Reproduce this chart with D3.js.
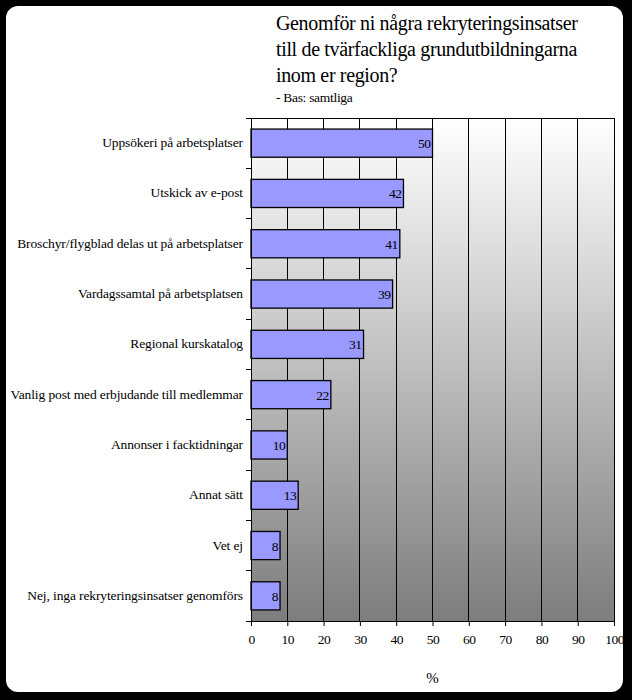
<!DOCTYPE html>
<html>
<head>
<meta charset="utf-8">
<script src="https://cdn.jsdelivr.net/npm/d3@7"></script>
<style>
  body { margin: 0; background: #000; }
  svg { display: block; font-family: "Liberation Serif", "Times New Roman", serif; }
</style>
</head>
<body>
<svg id="chart"></svg>
<script>
const categories = [
  "Uppsökeri på arbetsplatser",
  "Utskick av e-post",
  "Broschyr/flygblad delas ut på arbetsplatser",
  "Vardagssamtal på arbetsplatsen",
  "Regional kurskatalog",
  "Vanlig post med erbjudande till medlemmar",
  "Annonser i facktidningar",
  "Annat sätt",
  "Vet ej",
  "Nej, inga rekryteringsinsatser genomförs"
];
const values = [50, 42, 41, 39, 31, 22, 10, 13, 8, 8];
const xTicks = [0, 10, 20, 30, 40, 50, 60, 70, 80, 90, 100];
const titleLines = [
  "Genomför ni några rekryteringsinsatser",
  "till de tvärfackliga grundutbildningarna",
  "inom er region?"
];
const subtitle = "- Bas: samtliga";

const W = 632, H = 700;
const margin = { top: 118, right: 18, bottom: 79, left: 251 };
const width = W - margin.left - margin.right,
      height = H - margin.top - margin.bottom;

const svg = d3.select("#chart")
  .attr("width", W)
  .attr("height", H);

// frame
svg.append("rect")
  .attr("width", W).attr("height", H)
  .attr("fill", "#000");
svg.append("rect")
  .attr("x", 6).attr("y", 6)
  .attr("width", 617).attr("height", 686)
  .attr("rx", 12).attr("ry", 12)
  .attr("fill", "#fff");

const defs = svg.append("defs");
const grad = defs.append("linearGradient")
  .attr("id", "bg")
  .attr("x1", 0).attr("y1", 0).attr("x2", 0).attr("y2", 1);
grad.append("stop").attr("offset", "0%").attr("stop-color", "#ffffff");
grad.append("stop").attr("offset", "100%").attr("stop-color", "#7d7d7d");

const g = svg.append("g")
  .attr("transform", `translate(${margin.left},${margin.top})`);

const x = d3.scaleLinear()
  .domain([0, 100])
  .range([0, width]);

const y = d3.scaleBand()
  .domain(categories)
  .range([0, height])
  .paddingInner(0.44)
  .paddingOuter(0.22);

// plot background
g.append("rect")
  .attr("width", width)
  .attr("height", height)
  .attr("fill", "url(#bg)");

// gridlines
g.selectAll(".grid")
  .data(xTicks)
  .join("line")
  .attr("class", "grid")
  .attr("x1", d => x(d)).attr("x2", d => x(d))
  .attr("y1", 0).attr("y2", height)
  .attr("stroke", "#000")
  .attr("shape-rendering", "crispEdges");

g.append("line")
  .attr("x1", 0).attr("x2", width)
  .attr("y1", 0).attr("y2", 0)
  .attr("stroke", "#000")
  .attr("shape-rendering", "crispEdges");

// bars
g.selectAll(".bar")
  .data(values)
  .join("rect")
  .attr("class", "bar")
  .attr("x", 0)
  .attr("y", (d, i) => y(categories[i]))
  .attr("width", d => x(d))
  .attr("height", y.bandwidth())
  .attr("fill", "#9999ff")
  .attr("stroke", "#000")
  .attr("stroke-width", 1.3);

// value labels
g.selectAll(".val")
  .data(values)
  .join("text")
  .attr("class", "val")
  .attr("x", d => x(d) - 2)
  .attr("y", (d, i) => y(categories[i]) + y.bandwidth() / 2 + 5)
  .attr("text-anchor", "end")
  .style("font-size", "13.5px")
  .style("letter-spacing", "-0.5px")
  .text(d => d);

// y axis: ticks at category boundaries
const bounds = d3.range(categories.length + 1).map(i => i * height / categories.length);
g.append("line")
  .attr("x1", 0).attr("x2", 0)
  .attr("y1", 0).attr("y2", height)
  .attr("stroke", "#000")
  .attr("shape-rendering", "crispEdges");
g.selectAll(".ytick")
  .data(bounds)
  .join("line")
  .attr("class", "ytick")
  .attr("x1", -5).attr("x2", 0)
  .attr("y1", d => d).attr("y2", d => d)
  .attr("stroke", "#000")
  .attr("shape-rendering", "crispEdges");

g.selectAll(".ylab")
  .data(categories)
  .join("text")
  .attr("class", "ylab")
  .attr("x", -8)
  .attr("y", d => y(d) + y.bandwidth() / 2 + 4)
  .attr("text-anchor", "end")
  .style("font-size", "13.5px")
  .style("letter-spacing", "-0.12px")
  .text(d => d);

// x axis
const xAxis = g.append("g")
  .attr("transform", `translate(0,${height})`)
  .call(d3.axisBottom(x).tickValues(xTicks).tickSize(5).tickFormat(d3.format("d")));
xAxis.select(".domain").attr("stroke", "#000");
xAxis.selectAll(".tick line").attr("stroke", "#000");
xAxis.selectAll("text")
  .attr("y", 13)
  .style("font-family", "Liberation Serif, serif")
  .style("font-size", "13.5px")
  .style("letter-spacing", "-0.5px")
  .attr("fill", "#000");

svg.append("text")
  .attr("x", margin.left + width / 2)
  .attr("y", 683)
  .attr("text-anchor", "middle")
  .style("font-size", "15px")
  .text("%");

// title
svg.selectAll(".title")
  .data(titleLines)
  .join("text")
  .attr("class", "title")
  .attr("x", 276)
  .attr("y", (d, i) => 30 + i * 26)
  .style("font-size", "20px")
  .style("letter-spacing", "-0.35px")
  .text(d => d);

svg.append("text")
  .attr("x", 276)
  .attr("y", 102)
  .style("font-size", "13.5px")
  .style("letter-spacing", "-0.3px")
  .text(subtitle);
</script>
</body>
</html>
